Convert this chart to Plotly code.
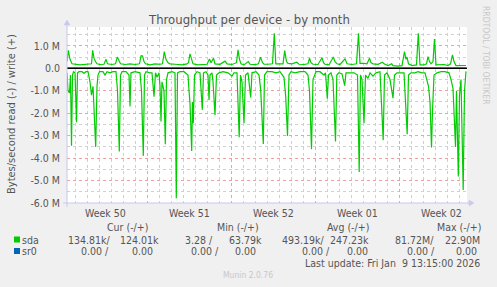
import datetime as dt
import plotly.graph_objects as go

# ---------------- data ----------------
# hours since 2025-12-08 08:00, value in MB/s (1e6 bytes/s)
sda_write = [(0, 0.3), (2.6, 0.8), (6, 0.4), (10, 0.2), (26, 0.15), (42, 0.18), (49, 0.2), (51.4, 0.8),
             (54, 0.45), (57, 0.3), (60, 0.2), (66, 0.17), (74, 0.18), (78, 0.4), (81, 0.2), (90, 0.17),
             (97, 0.2), (100.6, 0.5), (104, 0.3), (107, 0.2), (116, 0.17), (126, 0.2), (136, 0.17),
             (145, 0.2), (148, 0.55), (151, 0.55), (154, 0.3), (157, 0.2), (166, 0.15), (176, 0.2),
             (186, 0.18), (191, 0.2), (194.6, 0.74), (198, 0.4), (202, 0.25), (206, 0.2), (216, 0.18),
             (230, 0.15), (240, 0.2), (243, 0.25), (246, 0.64), (249, 0.4), (252, 0.2), (262, 0.15),
             (272, 0.15), (280, 0.18), (285, 0.42), (288, 0.25), (293, 0.45), (296, 0.2), (306, 0.18),
             (316, 0.32), (320, 0.2), (330, 0.17), (339, 0.25), (342, 0.82), (345, 0.4), (348, 0.2),
             (354, 0.15), (362.6, 0.3), (366, 0.18), (376, 0.16), (383, 0.2), (387, 0.5), (391, 0.25),
             (394, 0.18), (402, 0.18), (411, 0.2), (414.6, 1.56), (417.6, 0.2), (422, 0.2), (432, 0.2),
             (435.4, 0.79), (439, 0.3), (442, 0.22), (450, 0.2), (459.4, 0.27), (464, 0.18), (474, 0.17),
             (482, 0.2), (485, 0.45), (488, 0.25), (492, 0.18), (502, 0.17), (510, 0.47), (513, 0.25),
             (516, 0.18), (524, 0.15), (532.6, 0.5), (536, 0.3), (540, 0.2), (546, 0.17), (556, 0.42),
             (560, 0.2), (570, 0.17), (579, 0.2), (583, 1.56), (586, 0.22), (594, 0.22), (600, 0.2),
             (605, 0.45), (608, 0.25), (612, 0.2), (622, 0.18), (631, 0.27), (634, 0.2), (642, 0.12),
             (649.4, 0.2), (652, 0.12), (662, 0.1), (670, 0.12), (675, 0.74), (678, 0.4), (680, 0.5),
             (683, 0.2), (690, 0.12), (699, 0.15), (702.6, 1.56), (706, 0.15), (714, 0.15), (719, 0.2),
             (722, 0.52), (725, 0.3), (728, 0.2), (732, 0.3), (735, 1.3), (738, 0.15), (746, 0.15),
             (754, 0.17), (762, 0.12), (767, 0.2), (771, 0.6), (774, 0.3), (778, 0.12), (786, 0.12),
             (794, 0.12), (798, 0.124)]

sda_read = [(0, 0.2), (2, 1.0), (5, 1.1), (7, 0.3), (9, 3.45), (11, 0.3), (13, 0.15), (16, 0.2), (19, 2.4),
            (21, 0.2), (24, 0.15), (30, 0.15), (34, 0.22), (38, 0.15), (42, 0.15), (46, 0.6), (49, 1.2),
            (52, 0.8), (57.4, 3.5), (60, 0.8), (62, 0.3), (65, 0.15), (72, 0.15), (76, 0.3), (80, 0.15),
            (86, 0.2), (92, 0.15), (98, 0.15), (101, 1.0), (104.6, 3.7), (107, 0.3), (110, 0.15),
            (118, 0.15), (124, 0.3), (126, 1.7), (128, 0.2), (136, 0.15), (146, 0.2), (149, 1.0),
            (152.6, 3.9), (155, 0.3), (158, 0.15), (166, 0.2), (170, 0.2), (174, 1.26), (177, 0.2),
            (180, 0.4), (184, 0.2), (186, 0.8), (188, 2.37), (190, 0.6), (194, 1.0), (196.6, 3.38),
            (199, 0.5), (202, 0.2), (210, 0.15), (216, 0.2), (218.6, 5.79), (221, 0.2), (226, 0.15),
            (234, 0.15), (242, 0.3), (244, 1.0), (246, 1.56), (249.4, 3.68), (251, 1.5), (252.6, 2.45),
            (255, 0.3), (260, 0.15), (266, 0.2), (270.6, 1.85), (273, 0.2), (278, 0.15), (282, 0.3),
            (284, 1.41), (286, 0.3), (290, 0.2), (292, 0.6), (296, 2.08), (299, 0.3), (304, 0.2),
            (312, 0.15), (322, 0.2), (330, 0.35), (334, 0.2), (340, 0.2), (344.4, 3.07), (347, 0.3),
            (350, 0.6), (354, 2.45), (357, 0.3), (362, 0.2), (367.4, 1.3), (370, 0.2), (378, 0.15),
            (384, 0.3), (387.4, 0.96), (392.6, 3.37), (395, 0.3), (400, 0.15), (410, 0.15), (418, 0.2),
            (426, 0.15), (434, 0.4), (437.4, 1.26), (441, 3.01), (444, 0.3), (448, 0.15), (456, 0.2),
            (466, 0.15), (476, 0.15), (482, 0.3), (485, 1.0), (489, 3.6), (492, 0.5), (495, 0.3),
            (498, 0.15), (506, 0.15), (514, 0.3), (517, 0.2), (520.6, 1.35), (523, 0.3), (528, 0.2),
            (532, 0.5), (537, 3.26), (539.6, 0.3), (544, 0.2), (550, 0.25), (555.4, 0.77), (558, 0.2),
            (566, 0.2), (574, 0.2), (581, 0.3), (584.4, 4.62), (587, 0.3), (590, 0.5), (594, 2.45),
            (597, 0.3), (602, 0.45), (606, 0.2), (612, 0.35), (618, 0.2), (626, 0.15), (632.4, 3.2),
            (635, 0.3), (640, 0.2), (646, 0.5), (652, 1.33), (655, 0.3), (660, 0.2), (668, 0.2),
            (674, 0.2), (680.4, 2.94), (683, 0.3), (688, 0.2), (696, 0.2), (702, 0.15), (710, 0.2),
            (716, 0.2), (720, 0.5), (723, 0.8), (726, 1.5), (729, 3.53), (731, 1.9), (734, 0.3),
            (740, 0.2), (748, 0.15), (756, 0.15), (764, 0.2), (768, 0.5), (772, 0.9), (777, 3.5),
            (779, 1.0), (782.6, 4.82), (785, 1.2), (788, 0.5), (792.4, 5.42), (795, 1.0), (797.4, 0.15),
            (798, 0.135)]

sr0_hours = [0, 798]
sr0_values = [0.0, 0.0]

y_tick_values = [1, 0, -1, -2, -3, -4, -5, -6]
y_tick_labels = ["1.0 M", "0.0", "-1.0 M", "-2.0 M", "-3.0 M", "-4.0 M", "-5.0 M", "-6.0 M"]
week_labels = ["Week 50", "Week 51", "Week 52", "Week 01", "Week 02"]
week_starts = ["2025-12-08", "2025-12-15", "2025-12-22", "2025-12-29", "2026-01-05"]

legend_series = ["sda", "sr0"]
legend_colors = ["#00CC00", "#0066B3"]
legend_headers = ["Cur (-/+)", "Min (-/+)", "Avg (-/+)", "Max (-/+)"]
legend_values = {
    "sda": [("134.81k/", "124.01k"), ("3.28 /", "63.79k"), ("493.19k/", "247.23k"), ("81.72M/", "22.90M")],
    "sr0": [("0.00 /", "0.00"), ("0.00 /", "0.00"), ("0.00 /", "0.00"), ("0.00 /", "0.00")],
}
last_update = "Last update: Fri Jan  9 13:15:00 2026"

# ---------------- figure ----------------
W, H = 497, 287
L, R, T, B = 67, 467, 27, 203
start = dt.datetime(2025, 12, 8, 8, 0)
end = start + dt.timedelta(hours=800)


def hx(h):
    return start + dt.timedelta(hours=h)


def px(x):
    return (x - L) / (R - L)


def py(y):
    return (B - y) / (B - T)


FONT = "DejaVu Sans Condensed, DejaVu Sans, sans-serif"
TXT = "#555555"

fig = go.Figure()
fig.add_trace(go.Scatter(x=[hx(h) for h, _ in sda_read], y=[-v for _, v in sda_read], mode="lines",
                         line=dict(color="#00CC00", width=1.2), name="sda read", showlegend=False))
fig.add_trace(go.Scatter(x=[hx(h) for h, _ in sda_write], y=[v for _, v in sda_write], mode="lines",
                         line=dict(color="#00CC00", width=1.2), name="sda write", showlegend=False))
fig.add_trace(go.Scatter(x=[hx(h) for h in sr0_hours], y=[-v for v in sr0_values], mode="lines",
                         line=dict(color="#0066B3", width=1), name="sr0 read", showlegend=False))
fig.add_trace(go.Scatter(x=[hx(h) for h in sr0_hours], y=sr0_values, mode="lines",
                         line=dict(color="#0066B3", width=1), name="sr0 write", showlegend=False))

week_bounds = [dt.datetime.fromisoformat(s) for s in week_starts[1:]]
week_mids = [dt.datetime.fromisoformat(s) + dt.timedelta(days=3.5) for s in week_starts]

fig.update_xaxes(range=[start, end], tickvals=week_bounds, showticklabels=False, ticks="",
                 showgrid=True, gridcolor="#F0A0A0", griddash="dot", gridwidth=1,
                 minor=dict(dtick=86400000, tick0="2025-12-08", showgrid=True, gridcolor="#D0D0D0",
                            griddash="dot", gridwidth=1),
                 zeroline=False, showline=False, fixedrange=True)
fig.update_yaxes(range=[-6, 1.84], tickvals=y_tick_values, ticktext=y_tick_labels,
                 tickfont=dict(family=FONT, size=10.5, color=TXT), ticks="", ticklabelstandoff=6,
                 showgrid=True, gridcolor="#F0A0A0", griddash="dot", gridwidth=1,
                 minor=dict(dtick=0.5, tick0=0, showgrid=True, gridcolor="#D0D0D0", griddash="dot", gridwidth=1),
                 zeroline=False, showline=False, fixedrange=True)

shapes = []
# zero rule
shapes.append(dict(type="line", xref="paper", yref="y", x0=0, x1=1, y0=0, y1=0,
                   line=dict(color="#000000", width=1.6), layer="above"))
AX = "#C8C8F0"
# axes with arrows
shapes.append(dict(type="line", xref="paper", yref="paper", x0=px(63), x1=px(470), y0=0, y1=0,
                   line=dict(color=AX, width=1), layer="above"))
shapes.append(dict(type="line", xref="paper", yref="paper", x0=0, x1=0, y0=py(207), y1=py(24),
                   line=dict(color=AX, width=1), layer="above"))
shapes.append(dict(type="path", xref="paper", yref="paper",
                   path=f"M {px(469)} {py(200)} L {px(474)} {py(203)} L {px(469)} {py(206)} Z",
                   fillcolor=AX, line=dict(color=AX, width=0.5), layer="above"))
shapes.append(dict(type="path", xref="paper", yref="paper",
                   path=f"M {px(64)} {py(25)} L {px(67)} {py(20)} L {px(70)} {py(25)} Z",
                   fillcolor=AX, line=dict(color=AX, width=0.5), layer="above"))

ann = []
# title
ann.append(dict(text="Throughput per device - by month", xref="paper", yref="paper", x=px(249), y=py(20),
                xanchor="center", yanchor="middle", showarrow=False,
                font=dict(family=FONT, size=13, color=TXT)))
# y-axis title
ann.append(dict(text="Bytes/second read (-) / write (+)", xref="paper", yref="paper", x=px(12), y=py(114),
                xanchor="center", yanchor="middle", textangle=-90, showarrow=False,
                font=dict(family=FONT, size=11, color=TXT)))
# watermark
ann.append(dict(text="RRDTOOL / TOBI OETIKER", xref="paper", yref="paper", x=px(486), y=py(55),
                xanchor="center", yanchor="middle", textangle=90, showarrow=False,
                font=dict(family=FONT, size=8.5, color="#C8C8C8")))
# week labels
for lab, xm in zip(week_labels, week_mids):
    ann.append(dict(text=lab, xref="x", yref="paper", x=xm, y=py(213), xanchor="center", yanchor="middle",
                    showarrow=False, font=dict(family=FONT, size=10.5, color=TXT)))

# legend table
header_centers = [127, 238, 348, 459]
for htxt, hc in zip(legend_headers, header_centers):
    ann.append(dict(text=htxt, xref="paper", yref="paper", x=px(hc), y=py(227), xanchor="center",
                    yanchor="middle", showarrow=False, font=dict(family=FONT, size=10.5, color=TXT)))

row_y = {"sda": 239.5, "sr0": 251}
col_right = {
    "sda": [(113, 161), (215, 264), (327, 371), (436, 482)],
    "sr0": [(111, 155), (221, 258), (332, 370), (437, 479)],
}
for name, col in zip(legend_series, legend_colors):
    yy = row_y[name]
    shapes.append(dict(type="rect", xref="paper", yref="paper", x0=px(14), x1=px(20), y0=py(yy + 3),
                       y1=py(yy - 3), fillcolor=col, line=dict(width=0), layer="above"))
    ann.append(dict(text=name, xref="paper", yref="paper", x=px(20), y=py(yy), xanchor="left",
                    yanchor="middle", showarrow=False, font=dict(family=FONT, size=10.5, color=TXT)))
    for (a, b), (ra, rb) in zip(legend_values[name], col_right[name]):
        ann.append(dict(text=a, xref="paper", yref="paper", x=px(ra), y=py(yy), xanchor="right",
                        yanchor="middle", showarrow=False, font=dict(family=FONT, size=10.5, color=TXT)))
        ann.append(dict(text=b, xref="paper", yref="paper", x=px(rb), y=py(yy), xanchor="right",
                        yanchor="middle", showarrow=False, font=dict(family=FONT, size=10.5, color=TXT)))

ann.append(dict(text=last_update, xref="paper", yref="paper", x=px(482), y=py(263), xanchor="right",
                yanchor="middle", showarrow=False, font=dict(family=FONT, size=10.5, color=TXT)))
ann.append(dict(text="Munin 2.0.76", xref="paper", yref="paper", x=px(248), y=py(275), xanchor="center",
                yanchor="middle", showarrow=False, font=dict(family=FONT, size=8.5, color="#C8C8C8")))

fig.update_layout(width=W, height=H, margin=dict(l=L, r=W - R, t=T, b=H - B, pad=0),
                  paper_bgcolor="#F0F0F0", plot_bgcolor="#FFFFFF", showlegend=False,
                  shapes=shapes, annotations=ann, font=dict(family=FONT, color=TXT))

fig.write_html("out.html", config={"displayModeBar": False})
